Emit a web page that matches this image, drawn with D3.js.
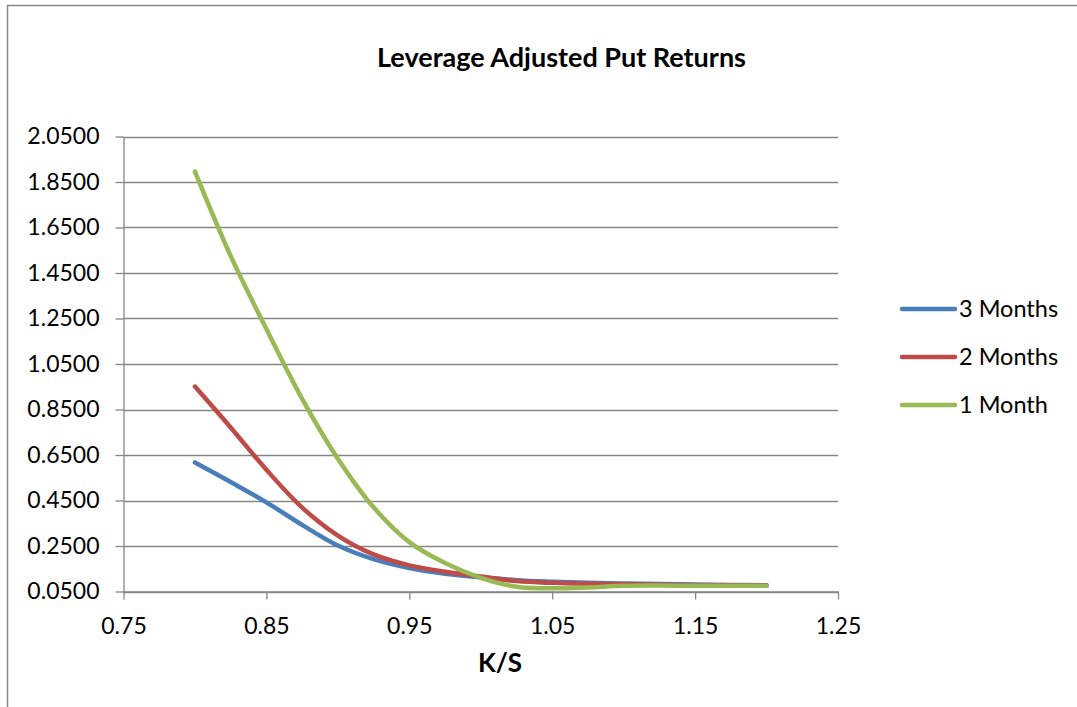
<!DOCTYPE html>
<html><head><meta charset="utf-8">
<script src="https://cdn.jsdelivr.net/npm/d3@7"></script>
<style>body{margin:0;background:#fff}svg{display:block}text{font-family:Lato,"Open Sans",sans-serif;fill:#000}</style>
</head><body><svg id="c" width="1077" height="707"></svg>
<script>
const strikes = [0.800,0.825,0.850,0.875,0.900,0.925,0.950,0.975,1.000,1.025,1.050,1.075,1.100,1.125,1.150,1.175,1.200];
const threeMonths = [0.617,0.531,0.442,0.343,0.252,0.192,0.153,0.128,0.113,0.100,0.093,0.088,0.085,0.083,0.081,0.079,0.077];
const twoMonths   = [0.951,0.771,0.585,0.419,0.296,0.213,0.165,0.137,0.116,0.096,0.088,0.084,0.082,0.080,0.078,0.077,0.076];
const oneMonth    = [1.896,1.525,1.204,0.897,0.634,0.420,0.267,0.175,0.110,0.071,0.064,0.068,0.075,0.076,0.075,0.075,0.075];
const seriesNames = ["3 Months","2 Months","1 Month"];
const colors = ["#4A7EBB","#BE4B48","#98B954"];
const xTicks = [0.75,0.85,0.95,1.05,1.15,1.25];
const yTicks = [0.05,0.25,0.45,0.65,0.85,1.05,1.25,1.45,1.65,1.85,2.05];

const svg = d3.select("#c");
const x = d3.scaleLinear().domain([0.75,1.25]).range([123.5,838]);
const y = d3.scaleLinear().domain([0.05,2.05]).range([591.5,136.5]);
const grey = "#868686";

// chart border
svg.append("path").attr("d","M7.5,707V5.5H1077").attr("fill","none").attr("stroke",grey).attr("stroke-width",1.5);

// gridlines
svg.append("g").selectAll("line").data(yTicks).join("line")
  .attr("x1",x.range()[0]).attr("x2",x.range()[1])
  .attr("y1",d=>Math.round(y(d))+0.5).attr("y2",d=>Math.round(y(d))+0.5)
  .attr("stroke",grey).attr("stroke-width",1.3);

// y axis
const ya = svg.append("g").attr("transform",`translate(${x.range()[0]},0)`)
  .call(d3.axisLeft(y).tickValues(yTicks).tickFormat(d3.format(".4f")).tickSizeOuter(0).tickSizeInner(8).tickPadding(16));
ya.select(".domain").attr("stroke",grey).attr("stroke-width",1.3);
ya.selectAll(".tick line").attr("stroke",grey).attr("stroke-width",1.3);
ya.selectAll("text").attr("font-size",23).attr("font-family","Lato").attr("fill","#000");

// x axis
const xa = svg.append("g").attr("transform",`translate(0,${y.range()[0]})`)
  .call(d3.axisBottom(x).tickValues(xTicks).tickFormat(d3.format(".2f")).tickSizeOuter(0).tickSizeInner(8).tickPadding(18));
xa.select(".domain").attr("stroke",grey).attr("stroke-width",1.3);
xa.selectAll(".tick line").attr("stroke",grey).attr("stroke-width",1.3);
xa.selectAll("text").attr("font-size",23).attr("font-family","Lato").attr("fill","#000");

// lines
const allSeries = [threeMonths,twoMonths,oneMonth];
const line = d3.line().x((d,i)=>x(strikes[i])).y(d=>y(d)).curve(d3.curveCatmullRom.alpha(0.5));
allSeries.forEach((s,k)=>{
  svg.append("path").attr("d",line(s)).attr("fill","none").attr("stroke",colors[k])
    .attr("stroke-width",4.5).attr("stroke-linecap","round").attr("stroke-linejoin","round");
});

// title
svg.append("text").attr("x",561.5).attr("y",66.5).attr("text-anchor","middle")
  .attr("font-size",27).attr("font-weight","bold").text("Leverage Adjusted Put Returns");
// x title
svg.append("text").attr("x",500).attr("y",671.5).attr("text-anchor","middle")
  .attr("font-size",26).attr("font-weight","bold").text("K/S");

// legend
const lg = svg.append("g");
seriesNames.forEach((n,k)=>{
  const ly = 309 + k*48;
  lg.append("line").attr("x1",902).attr("x2",955).attr("y1",ly).attr("y2",ly)
    .attr("stroke",colors[k]).attr("stroke-width",4.5).attr("stroke-linecap","round");
  lg.append("text").attr("x",959).attr("y",ly+8).attr("font-size",23.5).text(n);
});
</script></body></html>
